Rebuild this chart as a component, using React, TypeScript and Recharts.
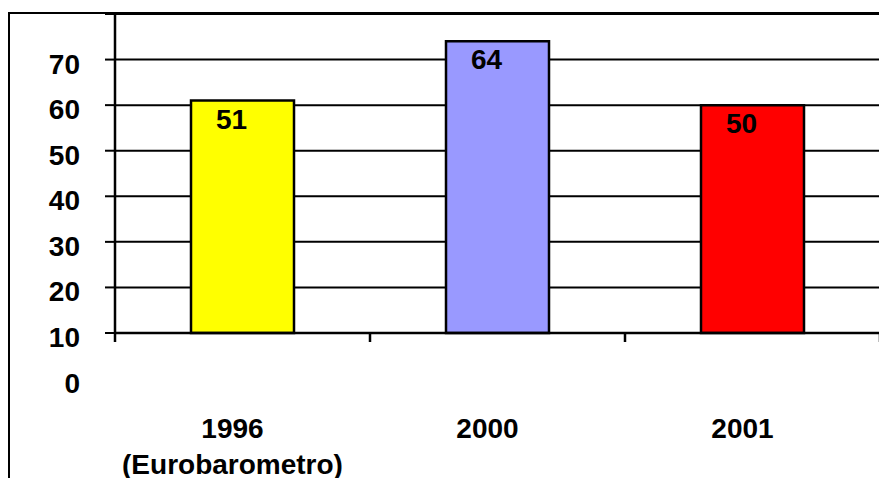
import React from 'react';
import { BarChart, Bar, XAxis, YAxis, CartesianGrid, LabelList, Cell } from 'recharts';

const categories = ['1996', '2000', '2001'];
const subLabels = ['(Eurobarometro)', '', ''];
const values = [51, 64, 50];
const colors = ['#FFFF00', '#9999FF', '#FF0000'];
const yTicks = [0, 10, 20, 30, 40, 50, 60, 70];
const yTickLabels = ['10', '20', '30', '40', '50', '60', '70', ''];
const extraBottomLabel = '0';

const data = categories.map((c, i) => ({ name: c, sub: subLabels[i], value: values[i] }));

const W = 887;
const H = 486;
const M = { top: 14, right: 7, bottom: 0, left: 0 };
const Y_W = 115;
const X_H = 153;
const PLOT_W = W - M.left - M.right - Y_W;
const PLOT_H = H - M.top - M.bottom - X_H;
const FONT = '"Liberation Sans", Arial, Helvetica, sans-serif';
const FS = 28;

const YTick = (props: any) => {
  const { x, y, payload } = props;
  const i = yTicks.indexOf(payload.value);
  const step = PLOT_H / (yTicks.length - 1);
  const common = {
    textAnchor: 'end' as const,
    fontFamily: FONT,
    fontSize: FS,
    fontWeight: 700,
    fill: '#000',
  };
  return (
    <g>
      <text x={x} y={y + 14} {...common}>{yTickLabels[i]}</text>
      {i === 0 && <text x={x} y={y + step + 14} {...common}>{extraBottomLabel}</text>}
    </g>
  );
};

const XTick = (props: any) => {
  const { x, y, index } = props;
  const band = PLOT_W / categories.length;
  const d = data[index];
  const common = {
    textAnchor: 'middle' as const,
    fontFamily: FONT,
    fontSize: FS,
    fontWeight: 700,
    fill: '#000',
  };
  return (
    <g>
      <line x1={x - band / 2} x2={x - band / 2} y1={y} y2={y + 9} stroke="#000" strokeWidth={2.5} />
      {index === categories.length - 1 && (
        <line x1={x + band / 2} x2={x + band / 2} y1={y} y2={y + 9} stroke="#000" strokeWidth={2.5} />
      )}
      <text x={x - 10} y={y + 105} {...common}>{d.name}</text>
      {d.sub && <text x={x - 10} y={y + 141} {...common}>{d.sub}</text>}
    </g>
  );
};

const BarLabel = (props: any) => {
  const { x, y, width, value } = props;
  return (
    <text
      x={x + width / 2 - 11}
      y={y + 28}
      textAnchor="middle"
      fontFamily={FONT}
      fontSize={FS}
      fontWeight={700}
      fill="#000"
    >
      {value}
    </text>
  );
};

export default function App() {
  return (
    <div style={{ position: 'relative', width: W, height: H, margin: -8, overflow: 'hidden', background: '#fff' }}>
      <div
        style={{
          position: 'absolute',
          left: 8,
          top: 12,
          width: 1000,
          height: 1000,
          border: '2px solid #000',
          boxSizing: 'border-box',
        }}
      />
      <div style={{ position: 'absolute', left: 0, top: 0 }}>
        <BarChart width={W} height={H} data={data} margin={M}>
          <CartesianGrid vertical={false} stroke="#000" strokeWidth={2} strokeDasharray="" />
          <XAxis
            dataKey="name"
            height={X_H}
            tickSize={0}
            tickMargin={0}
            tickLine={false}
            axisLine={{ stroke: '#000', strokeWidth: 2.5 }}
            tick={<XTick />}
            interval={0}
          />
          <YAxis
            width={Y_W}
            domain={[0, 70]}
            ticks={yTicks}
            interval={0}
            tickSize={10}
            tickMargin={25}
            tickLine={{ stroke: '#000', strokeWidth: 2 }}
            axisLine={{ stroke: '#000', strokeWidth: 2.5 }}
            tick={<YTick />}
          />
          <YAxis
            yAxisId="right"
            orientation="right"
            width={0}
            domain={[0, 70]}
            tick={false}
            tickLine={false}
            axisLine={{ stroke: '#808080', strokeWidth: 2 }}
          />
          <Bar dataKey="value" barSize={103} stroke="#000" strokeWidth={2.5} isAnimationActive={false}>
            {data.map((d, i) => (
              <Cell key={d.name} fill={colors[i]} />
            ))}
            <LabelList dataKey="value" content={<BarLabel />} />
          </Bar>
        </BarChart>
      </div>
    </div>
  );
}
